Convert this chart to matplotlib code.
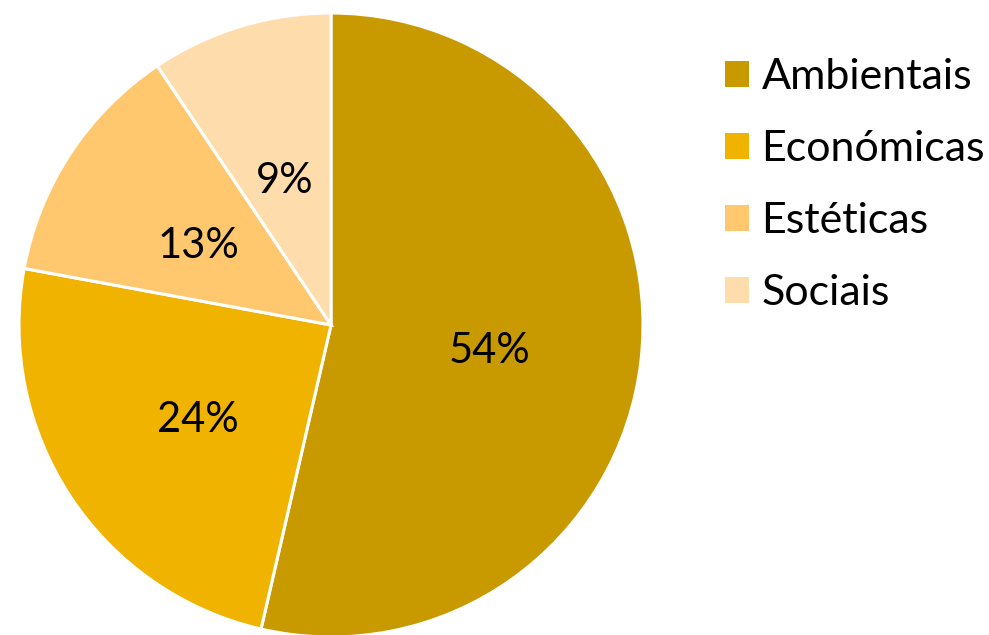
import matplotlib
matplotlib.use("Agg")
import matplotlib.pyplot as plt

categories = ["Ambientais", "Económicas", "Estéticas", "Sociais"]
values = [53.6, 24.3, 12.7, 9.4]
labels_pct = ["54%", "24%", "13%", "9%"]
colors = ["#C99A00", "#F0B400", "#FFC76E", "#FFDCAB"]

plt.rcParams['font.family'] = ['Lato', 'DejaVu Sans']

fig = plt.figure(figsize=(9.89, 6.35), dpi=100)
cx, cy, r = 331, 325, 312
W, H = 989, 635
ax = fig.add_axes([(cx - r) / W, (H - cy - r) / H, 2 * r / W, 2 * r / H])
wedges, texts, autotexts = ax.pie(
    values, colors=colors, startangle=90, counterclock=False,
    autopct="%1.0f%%", pctdistance=0.51,
    wedgeprops=dict(edgecolor="white", linewidth=2.2),
    textprops=dict(fontsize=30, color="black"),
    radius=1.0,
)
for t, lab in zip(autotexts, labels_pct):
    t.set_text(lab)
    x, y = t.get_position()
    t.set_position((x, y - 8 / r))
ax.set_xlim(-1, 1)
ax.set_ylim(-1, 1)
ax.set_aspect('equal')

leg = fig.legend(wedges, categories, loc="upper left",
                 bbox_to_anchor=(725 / W, 1 - 58 / H),
                 frameon=False, fontsize=31, handlelength=0.55, handleheight=0.55,
                 handletextpad=0.3, labelspacing=0.79, borderaxespad=0, borderpad=0)
for h in leg.legend_handles:
    h.set_edgecolor("none")

fig.savefig("out.png", dpi=100)
